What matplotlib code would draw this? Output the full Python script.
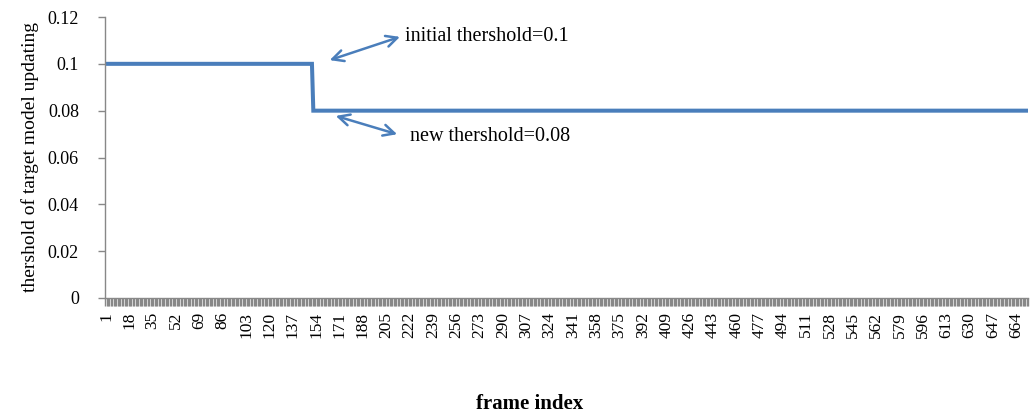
import matplotlib
matplotlib.use("Agg")
import matplotlib.pyplot as plt
import numpy as np

# Data
n_frames = 672
frames = list(range(1, n_frames + 1))
thresholds = [0.1] * 151 + [0.08] * (n_frames - 151)
tick_labels = [str(v) for v in range(1, 665, 17)]
y_ticks = [0, 0.02, 0.04, 0.06, 0.08, 0.1, 0.12]
y_tick_labels = ["0", "0.02", "0.04", "0.06", "0.08", "0.1", "0.12"]

plt.rcParams['font.family'] = ['Liberation Serif', 'DejaVu Serif']

fig = plt.figure(figsize=(10.32, 4.16), dpi=100)
ax = fig.add_axes([105.3 / 1032, 1 - 298 / 416, (1028 - 105.3) / 1032, (298 - 17) / 416])

line_color = '#4A7EBB'
ax.plot(frames, thresholds, color=line_color, linewidth=2.9, solid_joinstyle='miter')

ax.set_xlim(0.5, n_frames + 0.5)
ax.set_ylim(0, 0.12)

ax.set_yticks(y_ticks)
ax.set_yticklabels(y_tick_labels, fontsize=13)

label_pos = [int(t) for t in tick_labels]
ax.set_xticks(label_pos)
ax.set_xticklabels(tick_labels, rotation=90, fontsize=12.5)
ax.set_xticks(np.arange(0.5, n_frames + 1, 1), minor=True)
ax.tick_params(axis='x', which='major', length=0, pad=10)
ax.tick_params(axis='x', which='minor', length=6, width=1.0, color='#888888')
ax.tick_params(axis='y', which='major', length=5, width=1.0, color='#888888', pad=14)

for s in ['top', 'right']:
    ax.spines[s].set_visible(False)
for s in ['left', 'bottom']:
    ax.spines[s].set_color('#888888')
    ax.spines[s].set_linewidth(1.0)

ax.set_ylabel("thershold of target model updating", fontsize=14, labelpad=6)
fig.text(530 / 1032, 1 - 404 / 416, "frame index", fontsize=15, fontweight='bold',
         ha='center', va='center')

arrow_kw = dict(arrowstyle='<->', color=line_color, lw=1.8, mutation_scale=20)
ax.annotate("", xy=(162, 0.1012), xytext=(217, 0.1119), arrowprops=arrow_kw)
ax.annotate("", xy=(166.4, 0.0781), xytext=(215, 0.0696), arrowprops=arrow_kw)
ax.text(219, 0.1117, "initial thershold=0.1", fontsize=14.5, va='center', ha='left')
ax.text(222.5, 0.0688, "new thershold=0.08", fontsize=14.5, va='center', ha='left')

fig.savefig("out.png", dpi=100)
